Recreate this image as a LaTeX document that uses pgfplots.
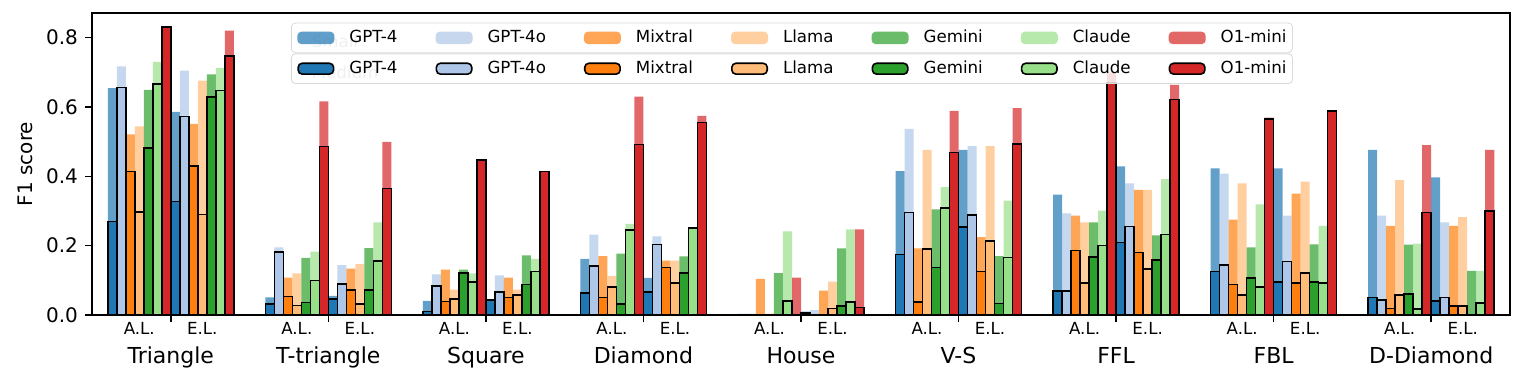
\documentclass[border=0pt]{standalone}
\usepackage{pgfplots}
\pgfplotsset{compat=1.18}
\usepackage{pgfplotstable}
\usepackage{fontspec}
\setmainfont{DejaVu Sans}

\definecolor{cGpt}{HTML}{1F77B4}
\definecolor{cGpto}{HTML}{AEC7E8}
\definecolor{cMix}{HTML}{FF7F0E}
\definecolor{cLla}{HTML}{FFBB78}
\definecolor{cGem}{HTML}{2CA02C}
\definecolor{cCla}{HTML}{98DF8A}
\definecolor{cOne}{HTML}{D62728}

% small models (light bars)
\pgfplotstableread{
x gA gE oA oE mA mE lA lE nA nE cA cE rA rE
0 .654 .586 .717 .705 .521 .551 .544 .676 .649 .694 .730 .713 .800 .820
1 .051 .055 .195 .144 .108 .134 .120 .147 .165 .193 .183 .267 .616 .499
2 .041 .040 .117 .114 .131 .108 .073 .073 .131 .172 .120 .162 .440 .405
3 .162 .107 .232 .227 .170 .157 .113 .157 .177 .169 .263 .240 .630 .574
4 .003 .010 .004 .014 .104 .070 .004 .096 .121 .192 .241 .247 .108 .247
5 .415 .476 .537 .487 .192 .225 .476 .487 .305 .170 .369 .330 .589 .597
6 .347 .429 .293 .380 .287 .361 .267 .361 .267 .230 .301 .392 .700 .664
7 .423 .423 .408 .287 .275 .350 .380 .385 .195 .204 .319 .257 .569 .580
8 .476 .397 .287 .267 .257 .257 .389 .282 .203 .127 .206 .127 .490 .476
}\tabS

% medium models (dark bars with edge)
\pgfplotstableread{
x gA gE oA oE mA mE lA lE nA nE cA cE rA rE
0 .270 .327 .656 .573 .414 .429 .297 .290 .482 .629 .666 .648 .831 .747
1 .032 .046 .182 .089 .053 .072 .027 .031 .036 .072 .099 .155 .486 .365
2 .010 .043 .084 .066 .039 .050 .046 .058 .122 .088 .096 .125 .447 .414
3 .063 .066 .142 .203 .050 .137 .081 .093 .032 .122 .246 .251 .492 .555
4 .001 .005 .000 .000 .000 .000 .000 .019 .000 .026 .040 .038 .000 .022
5 .175 .254 .296 .289 .038 .125 .190 .214 .137 .033 .308 .166 .469 .493
6 .070 .209 .070 .255 .186 .180 .093 .133 .167 .159 .201 .232 .669 .622
7 .125 .096 .145 .154 .088 .093 .058 .122 .107 .096 .080 .093 .565 .589
8 .050 .040 .043 .050 .019 .026 .057 .026 .061 .000 .017 .035 .296 .300
}\tabM

\newcommand{\bw}{0.0571429}
\newcommand{\sbar}[3]{\addplot[ybar, bar width=\bw, bar shift=0pt, fill=#1, fill opacity=0.7, draw=none, forget plot]
  table[x expr=\thisrow{x}+(#2), y=#3]{\tabS};}
\newcommand{\mbar}[3]{\addplot[ybar, bar width=\bw, bar shift=0pt, fill=#1, draw=black, line width=0.8pt, forget plot]
  table[x expr=\thisrow{x}+(#2), y=#3]{\tabM};}

\pgfplotsset{
  legbox/.style={
    legend columns=7,
    legend cell align=left,
    legend style={draw=gray!30, rounded corners=2pt, fill=white, fill opacity=0.8, text opacity=1,
      inner xsep=3pt, inner ysep=1.5pt, font=\fontsize{8.33}{10}\selectfont,
      /tikz/every odd column/.append style={column sep=7.5pt},
      /tikz/every even column/.append style={column sep=19pt},
      nodes={inner xsep=0pt, inner ysep=2pt}},
  },
}

\begin{document}
\begin{tikzpicture}
\begin{axis}[
  name=main,
  scale only axis, width=709pt, height=151pt,
  xmin=-0.5, xmax=8.5, ymin=0, ymax=0.871,
  axis line style={line width=0.8pt},
  tick align=outside, tick pos=left,
  major tick length=3.5pt, every tick/.style={black, line width=0.8pt},
  ytick={0,0.2,0.4,0.6,0.8},
  yticklabel style={/pgf/number format/.cd, fixed, fixed zerofill, precision=1},
  /pgf/number format/assume math mode=true,
  ylabel={F1 score},
  xtick={0,...,8},
  xticklabels={Triangle,T-triangle,Square,Diamond,House,V-S,FFL,FBL,D-Diamond},
  xticklabel style={font=\fontsize{11}{13}\selectfont, yshift=-9pt},
  extra x ticks={-0.2,0.2,0.8,1.2,1.8,2.2,2.8,3.2,3.8,4.2,4.8,5.2,5.8,6.2,6.8,7.2,7.8,8.2},
  extra x tick labels={A.L.,E.L.,A.L.,E.L.,A.L.,E.L.,A.L.,E.L.,A.L.,E.L.,A.L.,E.L.,A.L.,E.L.,A.L.,E.L.,A.L.,E.L.},
  extra x tick style={major tick length=0pt, xticklabel style={font=\fontsize{8.33}{10}\selectfont, yshift=9pt}},
  legbox,
  legend image code/.code={\path[#1] (0pt,-3.1pt) rectangle (18.5pt,3.1pt);},
  legend style={at={(0.1403,0.968)}, anchor=north west},
]
% small models
\sbar{cGpt}{-0.37143}{gA} \sbar{cGpt}{0.02857}{gE}
\sbar{cGpto}{-0.31429}{oA} \sbar{cGpto}{0.08571}{oE}
\sbar{cMix}{-0.25714}{mA} \sbar{cMix}{0.14286}{mE}
\sbar{cLla}{-0.2}{lA} \sbar{cLla}{0.2}{lE}
\sbar{cGem}{-0.14286}{nA} \sbar{cGem}{0.25714}{nE}
\sbar{cCla}{-0.08571}{cA} \sbar{cCla}{0.31429}{cE}
\sbar{cOne}{-0.02857}{rA} \sbar{cOne}{0.37143}{rE}
% medium models
\mbar{cGpt}{-0.37143}{gA} \mbar{cGpt}{0.02857}{gE}
\mbar{cGpto}{-0.31429}{oA} \mbar{cGpto}{0.08571}{oE}
\mbar{cMix}{-0.25714}{mA} \mbar{cMix}{0.14286}{mE}
\mbar{cLla}{-0.2}{lA} \mbar{cLla}{0.2}{lE}
\mbar{cGem}{-0.14286}{nA} \mbar{cGem}{0.25714}{nE}
\mbar{cCla}{-0.08571}{cA} \mbar{cCla}{0.31429}{cE}
\mbar{cOne}{-0.02857}{rA} \mbar{cOne}{0.37143}{rE}

\node[anchor=west, text=gray!60, font=\fontsize{8.33}{10}\selectfont] at (rel axis cs:0.150,0.905) {Small};

\addlegendimage{fill=cGpt, fill opacity=0.7, draw=none}\addlegendentry{GPT-4}
\addlegendimage{fill=cGpto, fill opacity=0.7, draw=none}\addlegendentry{GPT-4o}
\addlegendimage{fill=cMix, fill opacity=0.7, draw=none}\addlegendentry{Mixtral}
\addlegendimage{fill=cLla, fill opacity=0.7, draw=none}\addlegendentry{Llama}
\addlegendimage{fill=cGem, fill opacity=0.7, draw=none}\addlegendentry{Gemini}
\addlegendimage{fill=cCla, fill opacity=0.7, draw=none}\addlegendentry{Claude}
\addlegendimage{fill=cOne, fill opacity=0.7, draw=none}\addlegendentry{O1-mini}
\end{axis}

\begin{axis}[
  scale only axis, width=709pt, height=151pt,
  xmin=-0.5, xmax=8.5, ymin=0, ymax=0.871,
  hide axis,
  legbox,
  legend image code/.code={\path[#1] (0.4pt,-2.7pt) rectangle (18.1pt,2.7pt);},
  legend style={at={(0.1403,0.866)}, anchor=north west},
]
\node[anchor=west, text=gray!60, font=\fontsize{8.33}{10}\selectfont] at (rel axis cs:0.150,0.805) {Medium};
\addlegendimage{fill=cGpt, fill opacity=1, draw=black, line width=0.8pt}\addlegendentry{GPT-4}
\addlegendimage{fill=cGpto, fill opacity=1, draw=black, line width=0.8pt}\addlegendentry{GPT-4o}
\addlegendimage{fill=cMix, fill opacity=1, draw=black, line width=0.8pt}\addlegendentry{Mixtral}
\addlegendimage{fill=cLla, fill opacity=1, draw=black, line width=0.8pt}\addlegendentry{Llama}
\addlegendimage{fill=cGem, fill opacity=1, draw=black, line width=0.8pt}\addlegendentry{Gemini}
\addlegendimage{fill=cCla, fill opacity=1, draw=black, line width=0.8pt}\addlegendentry{Claude}
\addlegendimage{fill=cOne, fill opacity=1, draw=black, line width=0.8pt}\addlegendentry{O1-mini}
\end{axis}

\path ([xshift=-46pt,yshift=-32pt]main.south west) rectangle ([xshift=6pt,yshift=6.5pt]main.north east);
\end{tikzpicture}
\end{document}
